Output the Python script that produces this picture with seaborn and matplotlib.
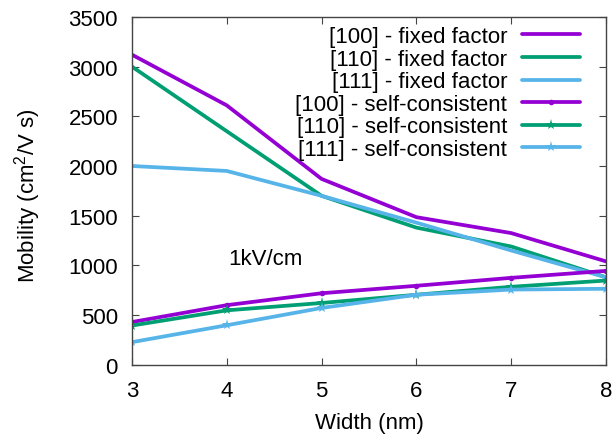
import pandas as pd
import matplotlib
matplotlib.use('Agg')
import matplotlib.pyplot as plt
import seaborn as sns

width = [3, 4, 5, 6, 7, 8]
fixed_100 = [3120, 2610, 1870, 1485, 1325, 1040]
fixed_110 = [3000, 2350, 1700, 1380, 1190, 880]
fixed_111 = [2000, 1950, 1700, 1430, 1150, 880]
sc_100 = [430, 600, 720, 795, 875, 945]
sc_110 = [395, 548, 622, 705, 785, 848]
sc_111 = [228, 398, 572, 705, 757, 765]

purple = '#9400d3'
green = '#009e73'
blue = '#56b4e9'

sns.set_style('ticks')
plt.rcParams['font.family'] = ['Liberation Sans', 'DejaVu Sans']
plt.rcParams['mathtext.fontset'] = 'custom'
plt.rcParams['mathtext.rm'] = 'Liberation Sans'
plt.rcParams['mathtext.it'] = 'Liberation Sans'
plt.rcParams['text.color'] = 'black'
plt.rcParams['axes.labelcolor'] = 'black'
plt.rcParams['xtick.labelcolor'] = 'black'
plt.rcParams['ytick.labelcolor'] = 'black'

fig = plt.figure(figsize=(6.16, 4.35), dpi=100)
ax = fig.add_axes([0.214, 0.159, 0.77, 0.8])

series = [
    ('[100] - fixed factor', fixed_100, purple, None, 0),
    ('[110] - fixed factor', fixed_110, green, None, 0),
    ('[111] - fixed factor', fixed_111, blue, None, 0),
    ('[100] - self-consistent', sc_100, purple, 'o', 4),
    ('[110] - self-consistent', sc_110, green, '*', 8),
    ('[111] - self-consistent', sc_111, blue, '*', 8),
]
for label, vals, col, mk, ms in series:
    df = pd.DataFrame({'Width': width, 'Mobility': vals})
    sns.lineplot(data=df, x='Width', y='Mobility', ax=ax, color=col, lw=2.7,
                 marker=mk, markersize=ms, markeredgewidth=0, label=label)

ax.set_xlim(3, 8)
ax.set_ylim(0, 3500)
ax.set_xticks(width)
ax.set_yticks(range(0, 3501, 500))
ax.tick_params(direction='in', top=True, right=True, labelsize=16, length=5,
               color='#444444', labelcolor='black')
ax.tick_params(axis='x', pad=11)
ax.tick_params(axis='y', pad=10)
for s in ax.spines.values():
    s.set_color('#444444')
    s.set_linewidth(1.0)
ax.set_xlabel('Width (nm)', fontsize=16, labelpad=8, color='black')
ax.set_ylabel('Mobility (cm$^2$/V s)', fontsize=16, color='black')
ax.yaxis.set_label_coords(-0.188, 0.49)
ax.text(4.013, 1016, '1kV/cm', fontsize=16, ha='left', va='baseline', color='black')

leg = ax.legend(loc='upper right', bbox_to_anchor=(0.945, 0.973), frameon=False,
                fontsize=16, markerfirst=False, handlelength=2.6, labelspacing=0.07,
                borderaxespad=0, borderpad=0, handletextpad=0.68)
for t in leg.get_texts():
    t.set_ha('right')
    t.set_color('black')
leg._legend_box.align = 'right'

fig.savefig('out.png', dpi=100)
